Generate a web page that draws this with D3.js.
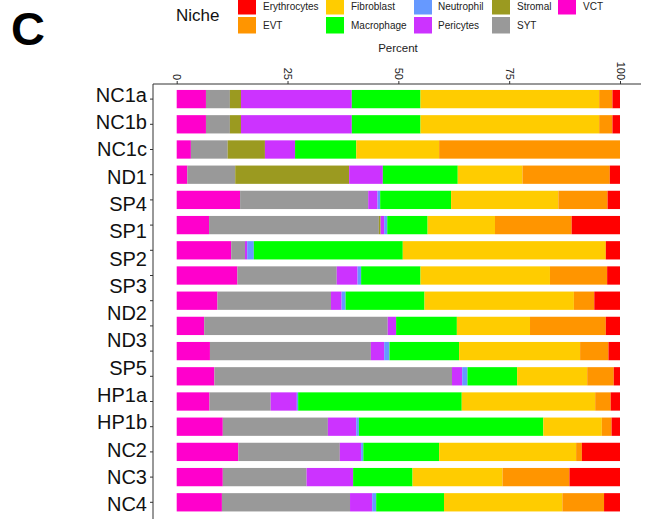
<!DOCTYPE html>
<html>
<head>
<meta charset="utf-8">
<script src="https://cdn.jsdelivr.net/npm/d3@7"></script>
<style>
  html, body { margin: 0; padding: 0; background: #fff; }
  svg { display: block; font-family: "Liberation Sans", Arial, Helvetica, sans-serif; }
</style>
</head>
<body>
<svg id="chart" width="649" height="519"></svg>
<script>
// Sample labels shown on the y axis
const sampleLabels = ["NC1a", "NC1b", "NC1c", "ND1", "SP4", "SP1", "SP2", "SP3",
  "ND2", "ND3", "SP5", "HP1a", "HP1b", "NC2", "NC3", "NC4"];

// Niche categories (legend order)
const niches = ["Erythrocytes", "EVT", "Fibroblast", "Macrophage", "Neutrophil",
  "Pericytes", "Stromal", "SYT", "VCT"];

const nicheColors = ["#ff0000", "#ff9500", "#ffcc00", "#00ff00", "#6699ff",
  "#cc33ff", "#9b9a20", "#999999", "#ff00cc"];

// Percent of each niche per bar (top to bottom)
const VCT          = [6.6, 6.6, 3.2, 2.4, 14.3, 7.3, 12.3, 13.7, 9.2, 6.2, 7.5, 8.5, 7.4, 10.4, 13.9, 10.4, 10.2];
const SYT          = [5.4, 5.4, 8.3, 10.8, 28.9, 38.3, 3.1, 22.4, 25.6, 41.4, 36.3, 53.6, 13.8, 23.7, 22.9, 18.9, 28.9];
const Stromal      = [2.5, 2.5, 8.4, 25.7, 0, 0.4, 0, 0, 0, 0, 0, 0, 0, 0, 0, 0, 0];
const Pericytes    = [25.0, 25.0, 6.8, 7.6, 2.1, 0.8, 0.5, 4.7, 2.4, 1.9, 3.0, 2.3, 5.9, 6.4, 4.8, 10.5, 5.0];
const Neutrophil   = [0, 0, 0, 0, 0.6, 0.7, 1.5, 0.8, 0.9, 0, 1.2, 1.2, 0.3, 0.6, 0.5, 0, 0.9];
const Macrophage   = [15.5, 15.5, 13.8, 16.9, 16.0, 9.1, 33.6, 13.4, 17.8, 13.7, 15.7, 11.2, 36.9, 41.6, 17.1, 13.4, 15.3];
const Fibroblast   = [40.3, 40.3, 18.7, 14.6, 24.2, 15.2, 45.8, 29.2, 33.7, 16.5, 27.3, 15.8, 30.1, 13.2, 30.9, 20.3, 26.7];
const EVT          = [3.0, 3.0, 40.8, 19.7, 11.1, 17.3, 0, 12.9, 4.6, 17.1, 6.4, 6.0, 3.5, 2.2, 1.3, 15.1, 9.4];
const Erythrocytes = [1.7, 1.7, 0, 2.3, 2.8, 10.9, 3.2, 2.9, 5.8, 3.2, 2.6, 1.4, 2.1, 1.9, 8.6, 11.4, 3.6];

const xTicks = [0, 25, 50, 75, 100];

const series = { VCT, SYT, Stromal, Pericytes, Neutrophil, Macrophage, Fibroblast, EVT, Erythrocytes };
const barIds = VCT.map((_, i) => i);
const rows = barIds.map(i => {
  const r = { id: i };
  niches.forEach(n => { r[n] = series[n][i]; });
  return r;
});

const svg = d3.select("#chart");
const color = d3.scaleOrdinal().domain(niches).range(nicheColors);

// Panel geometry
const panel = { left: 153, top: 84, right: 641, bottom: 519 };
const x = d3.scaleLinear().domain([0, 100]).range([176.7, 620]);
const y = d3.scaleBand().domain(barIds).range([86.5, 514.9])
  .paddingInner(0.274).paddingOuter(0.137);

// Stack from VCT on the left to Erythrocytes on the right
const stackKeys = niches.slice().reverse();
const stacked = d3.stack().keys(stackKeys)(rows);

svg.append("g").selectAll("g")
  .data(stacked)
  .join("g")
  .attr("fill", d => color(d.key))
  .selectAll("rect")
  .data(d => d)
  .join("rect")
  .attr("x", d => x(d[0]))
  .attr("width", d => Math.max(0, x(d[1]) - x(d[0])))
  .attr("y", d => y(d.data.id))
  .attr("height", y.bandwidth());

// Top axis
const xAxis = d3.axisTop(x).tickValues(xTicks).tickSize(3).tickPadding(2);
const gx = svg.append("g").attr("transform", `translate(0,${panel.top})`).call(xAxis);
gx.select(".domain").remove();
gx.append("line").attr("x1", panel.left).attr("x2", panel.right)
  .attr("stroke", "#333").attr("stroke-width", 1);
gx.selectAll(".tick line").attr("stroke", "#333");
gx.selectAll(".tick text")
  .attr("font-size", 11).attr("fill", "#222")
  .attr("text-anchor", "end")
  .attr("transform", "translate(0,-4) rotate(90)")
  .attr("x", 0).attr("y", 0).attr("dy", "0.35em");

svg.append("text").attr("x", 398).attr("y", 52)
  .attr("text-anchor", "middle").attr("font-size", 11.5).attr("fill", "#222")
  .text("Percent");

// Left axis: ticks at bar centres
const yAxis = d3.axisLeft(y).tickSize(3).tickFormat("");
const gy = svg.append("g").attr("transform", `translate(${panel.left},0)`).call(yAxis);
gy.select(".domain").remove();
gy.append("line").attr("y1", panel.top).attr("y2", panel.bottom)
  .attr("stroke", "#333").attr("stroke-width", 1);
gy.selectAll(".tick line").attr("stroke", "#333");

// Sample names
const yLab = d3.scalePoint().domain(sampleLabels).range([94.5, 504]);
svg.append("g").selectAll("text")
  .data(sampleLabels)
  .join("text")
  .attr("x", 147)
  .attr("y", d => yLab(d))
  .attr("dy", "0.36em")
  .attr("text-anchor", "end")
  .attr("font-size", 20)
  .attr("fill", "#111")
  .text(d => d);

// Panel letter
svg.append("text").attr("x", 11).attr("y", 45)
  .attr("font-size", 47).attr("font-weight", "bold").attr("fill", "#000")
  .attr("font-family", "'Liberation Sans', Arial, sans-serif")
  .text("C");

// Legend
const legend = svg.append("g");
legend.append("text").attr("x", 176).attr("y", 21)
  .attr("font-size", 17).attr("fill", "#111").text("Niche");
const colKeyX = [238, 326, 414, 492, 558];
const colTextX = [263, 351, 438, 517, 583];
const rowY = [-2, 17];
niches.forEach((n, i) => {
  const c = Math.floor(i / 2), r = i % 2;
  legend.append("rect")
    .attr("x", colKeyX[c]).attr("y", rowY[r])
    .attr("width", 18).attr("height", 16.5)
    .attr("fill", color(n));
  legend.append("text")
    .attr("x", colTextX[c]).attr("y", rowY[r] + 8.5)
    .attr("dy", "0.35em")
    .attr("font-size", 10).attr("fill", "#222")
    .text(n);
});
</script>
</body>
</html>
